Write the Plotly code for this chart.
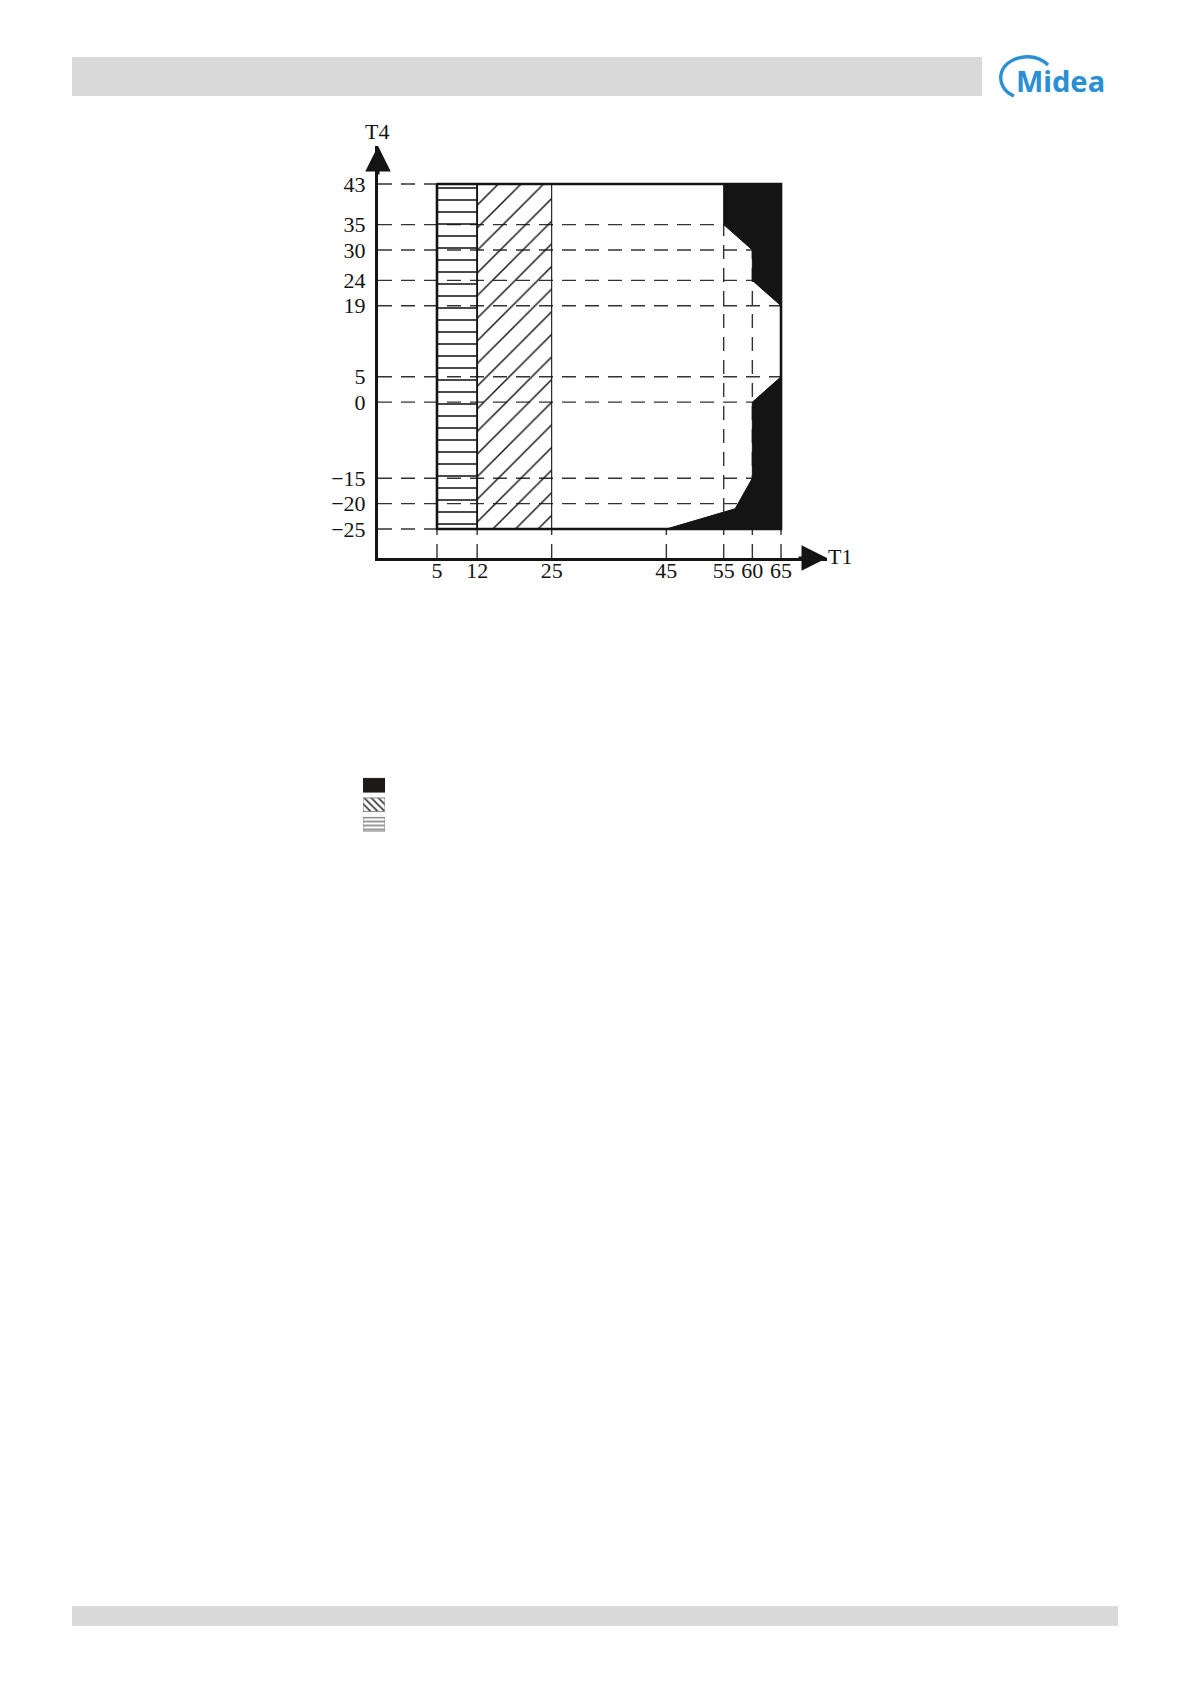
import plotly.graph_objects as go

PAGE_W, PAGE_H = 1191, 1684
OFF = 8  # default body margin of the html page
W, H = PAGE_W - OFF, PAGE_H - OFF

# ---------------- data ----------------
T1_TICKS = [5, 12, 25, 45, 55, 60, 65]
T1_TICK_TEXT = ["5", "12", "25", "45", "55", "60", "65"]
T4_TICKS = [43, 35, 30, 24, 19, 5, 0, -15, -20, -25]
T4_TICK_TEXT = ["43", "35", "30", "24", "19", "5", "0", "\u221215", "\u221220", "\u221225"]

T1_MIN, T1_MAX = 5, 65
T4_MIN, T4_MAX = -25, 43
HLINE_BAND_T1 = [5, 12]      # horizontal-line hatched zone
DIAG_BAND_T1 = [12, 25]      # diagonal hatched zone

UPPER_BLACK_T1 = [55, 55, 60, 60, 65, 65]
UPPER_BLACK_T4 = [43, 35, 30, 24, 19, 43]
LOWER_BLACK_T1 = [65, 60, 60, 57, 45, 65]
LOWER_BLACK_T4 = [5, 0, -15, -21, -25, -25]

# T4 value where each vertical guide (at the T1 ticks) stops
V_GUIDE_TOP_T4 = [-25, -25, -25, -25, 35, 30, -25]

LEGEND_KEYS = ["zone 1", "zone 2", "zone 3"]

# ---------------- axis ranges ----------------
X_LO, X_HI = -5.291, 73.02
Y_LO, Y_HI = -30.716, 50.49


def px_x(p):
    return (p - OFF) / W


def px_y(p):
    return 1 - (p - OFF) / H


SERIF = "Liberation Serif"
INK = "#141414"
GUIDE = dict(color="#333333", width=1.4, dash="14px,9px")

fig = go.Figure()

# horizontal dashed guides
hx, hy = [], []
for t4 in T4_TICKS:
    hx += [X_LO, T1_MAX, None]
    hy += [t4, t4, None]
fig.add_trace(go.Scatter(x=hx, y=hy, mode="lines", line=GUIDE, hoverinfo="skip"))

# vertical dashed guides
vx, vy = [], []
for t1, top in zip(T1_TICKS, V_GUIDE_TOP_T4):
    vx += [t1, t1, None]
    vy += [Y_LO, top, None]
fig.add_trace(go.Scatter(x=vx, y=vy, mode="lines", line=GUIDE, hoverinfo="skip"))

# horizontal-line hatched band
a, b = HLINE_BAND_T1
fig.add_trace(go.Scatter(
    x=[a, b, b, a, a], y=[T4_MIN, T4_MIN, T4_MAX, T4_MAX, T4_MIN],
    mode="lines", fill="toself", fillcolor="rgba(0,0,0,0)",
    fillpattern=dict(shape="-", fgcolor=INK, bgcolor="rgba(0,0,0,0)",
                     size=12, solidity=0.13),
    line=dict(color=INK, width=1.8), hoverinfo="skip"))

# diagonal hatched band
a, b = DIAG_BAND_T1
fig.add_trace(go.Scatter(
    x=[a, b, b, a, a], y=[T4_MIN, T4_MIN, T4_MAX, T4_MAX, T4_MIN],
    mode="lines", fill="toself", fillcolor="rgba(0,0,0,0)",
    fillpattern=dict(shape="/", fgcolor=INK, bgcolor="rgba(0,0,0,0)",
                     size=16, solidity=0.09),
    line=dict(color=INK, width=1.1), hoverinfo="skip"))

# black zones
for xs, ys in [(UPPER_BLACK_T1, UPPER_BLACK_T4), (LOWER_BLACK_T1, LOWER_BLACK_T4)]:
    fig.add_trace(go.Scatter(
        x=xs + xs[:1], y=ys + ys[:1], mode="lines", fill="toself",
        fillcolor=INK, line=dict(color=INK, width=1), hoverinfo="skip"))

# envelope outline
fig.add_trace(go.Scatter(
    x=[T1_MIN, T1_MAX, T1_MAX, T1_MIN, T1_MIN],
    y=[T4_MAX, T4_MAX, T4_MIN, T4_MIN, T4_MAX],
    mode="lines", line=dict(color=INK, width=2.6), hoverinfo="skip"))

# legend key swatches (the original shows no text next to them)
LEGEND_STYLE = [
    dict(color="#1c1a19", line=dict(color="#1c1a19", width=1)),
    dict(color="white", line=dict(color="#8a8a8a", width=1),
         pattern=dict(shape="\\", fgcolor="#444", bgcolor="white",
                      size=5, solidity=0.35)),
    dict(color="white", line=dict(color="#8a8a8a", width=1),
         pattern=dict(shape="-", fgcolor="#555", bgcolor="white",
                      size=4, solidity=0.3)),
]
for key, mk in zip(LEGEND_KEYS, LEGEND_STYLE):
    fig.add_trace(go.Bar(x=[1], y=[key], orientation="h", xaxis="x2",
                         yaxis="y2", marker=mk, width=0.7, hoverinfo="skip"))

axis_common = dict(showgrid=False, zeroline=False, showline=True, linewidth=3,
                   linecolor=INK, ticks="outside", tickcolor="rgba(0,0,0,0)",
                   tickfont=dict(family=SERIF, size=22, color=INK),
                   automargin=False)

fig.update_layout(
    width=W, height=H, template="none",
    margin=dict(l=0, r=0, t=0, b=0),
    paper_bgcolor="white", plot_bgcolor="white",
    showlegend=False, barmode="overlay",
    xaxis=dict(domain=[px_x(378), px_x(827)], range=[X_LO, X_HI],
               tickvals=T1_TICKS, ticktext=T1_TICK_TEXT, ticklen=1,
               ticklabelstandoff=-10,
               anchor="y", **axis_common),
    yaxis=dict(domain=[px_y(558), px_y(146)], range=[Y_LO, Y_HI],
               tickvals=T4_TICKS, ticktext=T4_TICK_TEXT, ticklen=5,
               anchor="x", **axis_common),
    xaxis2=dict(domain=[px_x(363), px_x(385)], range=[0, 1], visible=False,
                anchor="y2"),
    yaxis2=dict(domain=[px_y(834), px_y(775.5)], type="category",
                categoryorder="array", categoryarray=LEGEND_KEYS,
                autorange="reversed", visible=False, anchor="x2"),
)

# axis arrows and axis titles
fig.add_annotation(x=X_LO, y=Y_HI, xref="x", yref="y", text="", showarrow=True,
                   ax=0, ay=30, arrowhead=2, arrowsize=1.7, arrowwidth=3,
                   arrowcolor=INK)
fig.add_annotation(x=X_HI, y=Y_LO, xref="x", yref="y", text="", showarrow=True,
                   ax=-30, ay=0, arrowhead=2, arrowsize=1.7, arrowwidth=3,
                   arrowcolor=INK)
fig.add_annotation(x=px_x(377), y=px_y(131), xref="paper", yref="paper",
                   xanchor="center", yanchor="middle",
                   text="T4", showarrow=False,
                   font=dict(family=SERIF, size=22, color=INK))
fig.add_annotation(x=px_x(840), y=px_y(556), xref="paper", yref="paper",
                   xanchor="center", yanchor="middle",
                   text="T1", showarrow=False,
                   font=dict(family=SERIF, size=22, color=INK))

# page header / footer bars
fig.add_shape(type="rect", xref="paper", yref="paper",
              x0=px_x(72), x1=px_x(982), y0=px_y(96), y1=px_y(57),
              fillcolor="#d9d9d9", line=dict(width=0), layer="below")
fig.add_shape(type="rect", xref="paper", yref="paper",
              x0=px_x(72), x1=px_x(1118), y0=px_y(1626), y1=px_y(1606),
              fillcolor="#d9d9d9", line=dict(width=0), layer="below")

# logo
BLUE = "#2b8fd3"
logo_pts = [(1014, 96), (994, 88), (996, 60), (1024, 57),
            (1034, 56), (1042, 59), (1048, 65)]
c = [(px_x(x), px_y(y)) for x, y in logo_pts]
path = "M {},{} C {},{} {},{} {},{} C {},{} {},{} {},{}".format(
    *[v for pt in c for v in pt])
fig.add_shape(type="path", xref="paper", yref="paper", path=path,
              line=dict(color=BLUE, width=3.4))
fig.add_annotation(x=px_x(1060), y=px_y(80), xref="paper", yref="paper",
                   xanchor="center", yanchor="middle",
                   text="<b>Midea</b>", showarrow=False,
                   font=dict(family="Noto Sans", size=29, color=BLUE))

fig.write_html("out.html")
